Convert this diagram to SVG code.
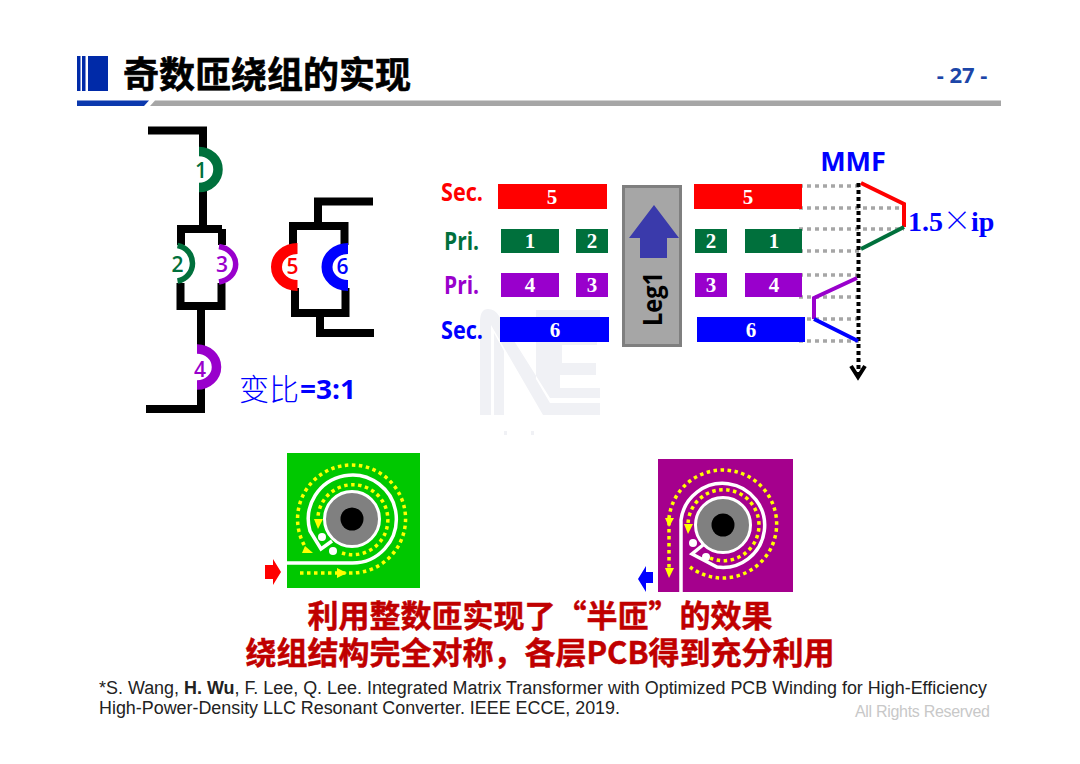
<svg xmlns="http://www.w3.org/2000/svg" width="1080" height="764" viewBox="0 0 1080 764">
<style>
.w{fill:none;stroke:#000;stroke-width:8}
.cj{font-family:"Noto Sans CJK SC","Noto Sans",sans-serif;font-weight:700}
.os{font-family:"Open Sans","Noto Sans",sans-serif;font-weight:700}
.bn{font-family:"Liberation Serif",serif;font-weight:700;font-size:21px;fill:#fff;text-anchor:middle}
.num{font-family:"Open Sans",sans-serif;font-weight:600;font-size:21px;text-anchor:middle}
.lab{font-family:"Open Sans",sans-serif;font-weight:700;font-size:25px}
.gd{fill:none;stroke:#a6a6a6;stroke-width:3.5;stroke-dasharray:4 4}
.yd{fill:none;stroke:#ff0;stroke-width:3.5;stroke-dasharray:3.5 3.5}
.wt{fill:none;stroke:#fff;stroke-width:3.5}
.ml{fill:none;stroke-width:4}
.cit{font-family:"Liberation Sans",Arial,sans-serif;font-size:18px;fill:#222}
.wm{fill:#f0f1f5}
</style>
<rect width="1080" height="764" fill="#fff"/>
<g id="watermark">
<path class="wm" d="M480,415V322Q480,309 488,309Q495,309 499,316L550,403H600V415H543L491,325V415Z"/>
<path class="wm" d="M494,333L504,351V415H494Z"/>
<path class="wm" d="M504,325L536,380V310H600V323H548V335H597V345H562V363H596V375H560V388H600V398H550Z"/>
<rect class="wm" x="504" y="431" width="3" height="4"/><rect class="wm" x="531" y="431" width="3" height="4"/>
</g>
<g id="header">
<rect x="77" y="56" width="3.5" height="35" fill="#002aa8"/><rect x="82" y="56" width="3.5" height="35" fill="#002aa8"/><rect x="88" y="56" width="20" height="35" fill="#002aa8"/>
<text x="123" y="88" font-size="36" class="cj" fill="#000" stroke="#000" stroke-width=".6">奇数匝绕组的实现</text>
<polygon points="77,100.5 149,100.5 144,106 77,106" fill="#0b39ae"/>
<polygon points="155,100.5 1001,100.5 1001,106 150,106" fill="#a6a6a6"/>
<text x="962" y="83" font-size="22" class="os" fill="#1c46a8" text-anchor="middle">- 27 -</text>
</g>
<g id="connectors">
<path class="w" d="M148,130.500H203V152"/><path class="w" d="M203,186V229H181V245M222,229H203M222,229V245"/>
<path class="w" d="M180.500,283V306H221.500V283M201,306V348M201,386V409H146"/>
<path class="w" d="M373,201.500H318V226M293,245V226H344.500V245"/>
<path class="w" d="M295,288V313H345.500V288M320,313V333H374"/>
<g id="mmf-lines">
<path class="gd" d="M799,186H859M799,208H904M799,229H904M799,251H859M799,275H859M799,297H859M799,319H859M799,341H859"/>
<path fill="none" stroke="#000" stroke-width="4" stroke-dasharray="4 3" d="M858.500,183V374"/>
<path fill="none" stroke="#000" stroke-width="4" d="M851,366L858,377L865,366"/>
<path class="ml" stroke="#f00" d="M861,183L904,204V227"/>
<path class="ml" stroke="#00703c" d="M904,227L861,249"/>
<path class="ml" stroke="#90c" d="M857,278L814,298V319"/>
<path class="ml" stroke="#00f" d="M814,319L858,341"/>
</g>
</g>
<g id="winding-1"><path fill="none" stroke="#00703c" stroke-width="9.500" d="M199,151.500A19,18 0 0 1 199,187.500"/><text class="num" x="201" y="178" fill="#00703c">1</text></g>
<g id="winding-2"><path fill="none" stroke="#00703c" stroke-width="5.500" d="M177.500,245.500A18,18 0 0 1 177.500,281"/><text class="num" x="177.500" y="272" fill="#00703c">2</text></g>
<g id="winding-3"><path fill="none" stroke="#90c" stroke-width="5.500" d="M219,246.500A20,18 0 0 1 219,282"/><text class="num" x="222" y="272" fill="#90c">3</text></g>
<g id="winding-4"><path fill="none" stroke="#90c" stroke-width="9.500" d="M197,349A19.500,18 0 0 1 197,385"/><text class="num" x="200" y="377" fill="#90c">4</text></g>
<g id="winding-5"><path fill="none" stroke="#f00" stroke-width="11" d="M297.500,248.500A21,18.500 0 0 0 297.500,285.500"/><text class="num" x="292.500" y="274" fill="#f00">5</text></g>
<g id="winding-6"><path fill="none" stroke="#00f" stroke-width="11" d="M348,248.500A21,18.500 0 0 0 348,285.500"/><text class="num" x="342.500" y="274" fill="#00f">6</text></g>
<g id="ratio"><text x="239" y="400" font-size="30" font-family="Noto Sans CJK SC,sans-serif" font-weight="300" fill="#00f">变比</text><text x="300" y="399" font-size="26" class="os" fill="#00f" textLength="56" lengthAdjust="spacingAndGlyphs">=3:1</text></g>
<g id="labels">
<text class="lab" x="441" y="201" fill="#f00" textLength="42" lengthAdjust="spacingAndGlyphs">Sec.</text><text class="lab" x="444" y="250" fill="#00703c" textLength="35" lengthAdjust="spacingAndGlyphs">Pri.</text>
<text class="lab" x="444" y="294" fill="#90c" textLength="35" lengthAdjust="spacingAndGlyphs">Pri.</text><text class="lab" x="441" y="339" fill="#00f" textLength="42" lengthAdjust="spacingAndGlyphs">Sec.</text>
<text x="853" y="171" font-size="27" class="os" fill="#00f" text-anchor="middle">MMF</text>
<text x="908" y="231" font-size="28" font-family="Liberation Serif,serif" font-weight="700" fill="#00f">1.5<tspan font-family="Noto Sans CJK SC,sans-serif" font-weight="300">×</tspan>ip</text>
</g>
<g id="leg1">
<rect x="623.500" y="186.500" width="57" height="159" fill="#a6a6a6" stroke="#7f7f7f" stroke-width="3"/>
<polygon points="654,205 679,238 667,238 667,258 640,258 640,238 629,238" fill="#3a3aab"/>
<text transform="translate(662,326) rotate(-90)" font-size="27" class="os" fill="#000" font-weight="600" textLength="54" lengthAdjust="spacingAndGlyphs">Leg1</text>
</g>
<g id="bars">
<g><rect x="498" y="184" width="109" height="25" fill="#f00"/><text class="bn" x="552" y="204">5</text></g>
<g><rect x="694" y="184" width="108" height="25" fill="#f00"/><text class="bn" x="748" y="204">5</text></g>
<g><rect x="501" y="229" width="58" height="24" fill="#00703c"/><text class="bn" x="530" y="248">1</text></g>
<g><rect x="576" y="229" width="32" height="24" fill="#00703c"/><text class="bn" x="592" y="248">2</text></g>
<g><rect x="695" y="229" width="32" height="24" fill="#00703c"/><text class="bn" x="711" y="248">2</text></g>
<g><rect x="745" y="229" width="57" height="24" fill="#00703c"/><text class="bn" x="774" y="248">1</text></g>
<g><rect x="501" y="273" width="58" height="24" fill="#90c"/><text class="bn" x="530" y="292">4</text></g>
<g><rect x="576" y="273" width="32" height="24" fill="#90c"/><text class="bn" x="592" y="292">3</text></g>
<g><rect x="695" y="273" width="32" height="24" fill="#90c"/><text class="bn" x="711" y="292">3</text></g>
<g><rect x="745" y="273" width="57" height="24" fill="#90c"/><text class="bn" x="774" y="292">4</text></g>
<g><rect x="500" y="317" width="109" height="25" fill="#00f"/><text class="bn" x="555" y="337">6</text></g>
<g><rect x="697" y="317" width="108" height="25" fill="#00f"/><text class="bn" x="751" y="337">6</text></g>
</g>
<g id="pcb-green">
<rect x="287" y="453" width="133" height="135" fill="#00c800"/>
<circle cx="352" cy="519" r="27.500" fill="#808080" stroke="#fff" stroke-width="3"/><circle cx="352" cy="519" r="11.500" fill="#000"/>
<path class="wt" d="M287,563H352A44,44 0 1 0 310,531L321,549L332,541"/>
<circle cx="322" cy="537" r="4" fill="#fff"/><circle cx="333" cy="551" r="4" fill="#fff"/>
<path class="yd" d="M300,573H352A54,54 0 1 0 306,548"/><path class="yd" d="M342,553A35,35 0 1 0 318,523"/>
<polygon points="337,568 347,573 337,578" fill="#ff0"/><polygon points="314,519 323,519 318,529" fill="#ff0"/><polygon points="305,546 313,553 302,553" fill="#ff0"/>
<polygon points="265,565 273,565 273,559 281,572 273,585 273,579 265,579" fill="#f00"/>
</g>
<g id="pcb-purple">
<rect x="658" y="459" width="135" height="133" fill="#a5008d"/>
<circle cx="723" cy="525" r="27.500" fill="#808080" stroke="#fff" stroke-width="3"/><circle cx="723" cy="525" r="11.500" fill="#000"/>
<path class="wt" d="M681,592V520A42,42 0 1 1 717,567L692,554L703,545"/>
<circle cx="693" cy="543" r="4" fill="#fff"/><circle cx="706" cy="557" r="4" fill="#fff"/>
<path class="yd" d="M690,567A54,54 0 1 0 669,518V573"/><path class="yd" d="M710,558A35.500,35.500 0 1 0 688,526"/>
<polygon points="665,518 674,518 669,527" fill="#ff0"/><polygon points="665,568 674,568 669,578" fill="#ff0"/><polygon points="684,524 693,524 688,534" fill="#ff0"/>
<polygon points="653,572 646,572 646,566 638,579 646,592 646,583 653,583" fill="#00f"/>
</g>
<g id="caption">
<text x="540" y="627" font-size="31" class="cj" fill="#c00000" stroke="#c00000" stroke-width=".5" text-anchor="middle">利用整数匝实现了“半匝”的效果</text>
<text x="540" y="664" font-size="31" class="cj" fill="#c00000" stroke="#c00000" stroke-width=".5" text-anchor="middle">绕组结构完全对称，各层PCB得到充分利用</text>
</g>
<g id="citation">
<text class="cit" x="99" y="694" textLength="888" lengthAdjust="spacingAndGlyphs">*S. Wang, <tspan font-weight="700">H. Wu</tspan>, F. Lee, Q. Lee. Integrated Matrix Transformer with Optimized PCB Winding for High-Efficiency</text>
<text class="cit" x="99" y="714" textLength="521" lengthAdjust="spacingAndGlyphs">High-Power-Density LLC Resonant Converter. IEEE ECCE, 2019.</text>
<text x="855" y="717" font-size="16" font-family="Liberation Sans,sans-serif" fill="#c8c8c8" textLength="135">All Rights Reserved</text>
</g>
</svg>
